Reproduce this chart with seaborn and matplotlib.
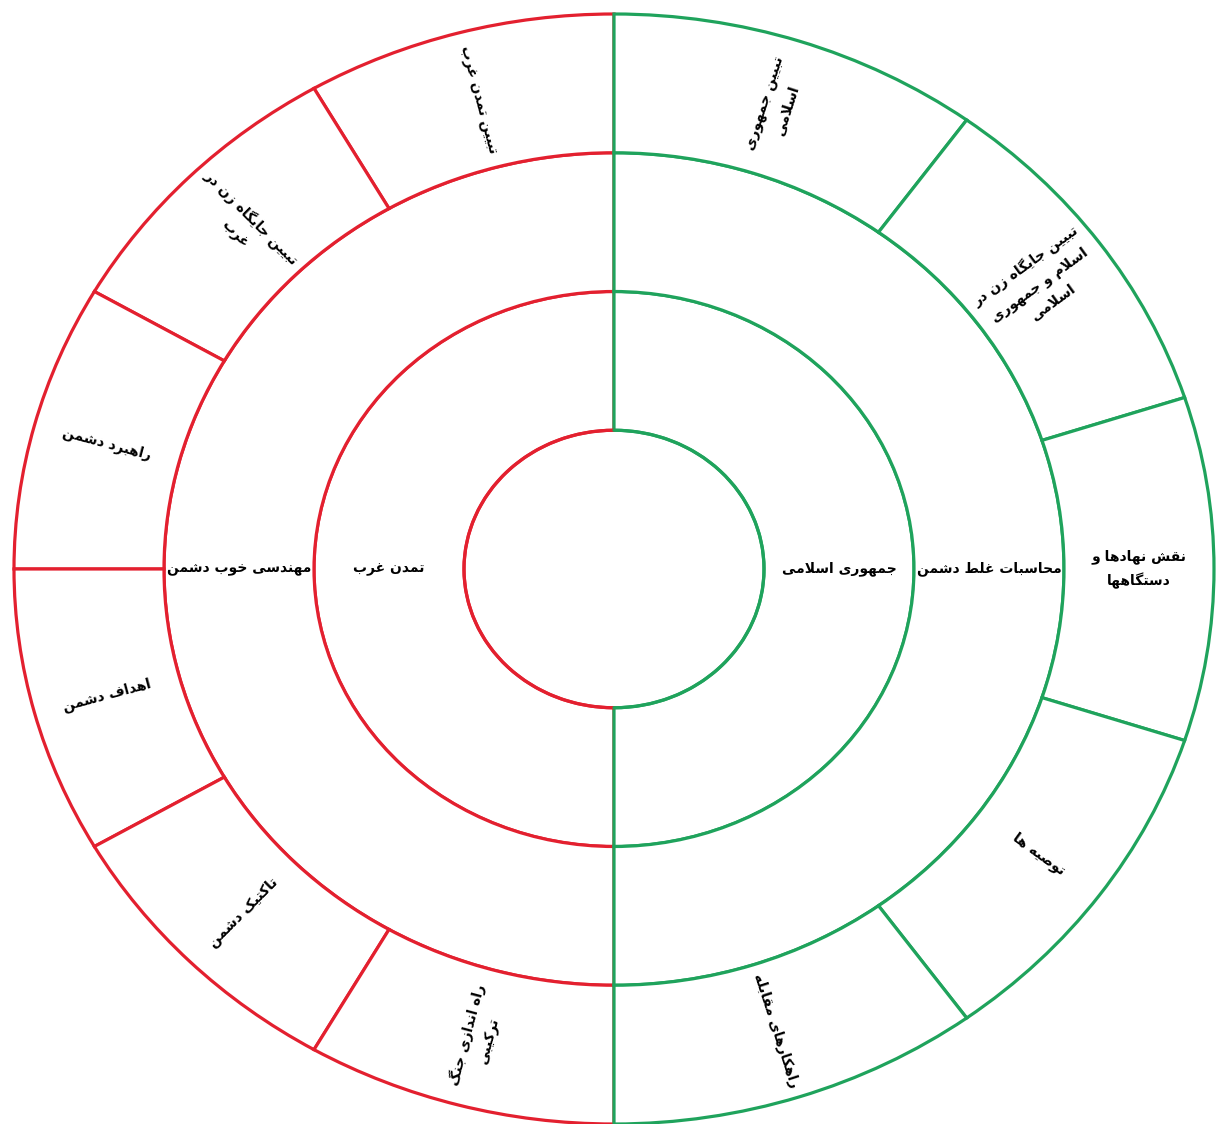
import numpy as np
import pandas as pd
import seaborn as sns
import matplotlib.pyplot as plt

# Labels of the diagram (right half = green, left half = red)
core_labels = ["جمهوری اسلامی", "تمدن غرب"]
middle_labels = ["محاسبات غلط دشمن", "مهندسی خوب دشمن"]
outer_right = ["تبیین جمهوری\nاسلامی",
               "تبیین جایگاه زن در\nاسلام و جمهوری\nاسلامی",
               "نقش نهادها و\nدستگاهها",
               "توصیه ها",
               "راهکارهای مقابله"]
outer_left = ["تبیین تمدن غرب",
              "تبیین جایگاه زن در\nغرب",
              "راهبرد دشمن",
              "اهداف دشمن",
              "تاکتیک دشمن",
              "راه اندازی جنگ\nترکیبی"]
side_colors = {"right": "#1fa35c", "left": "#e3202f"}

# Arabic presentation forms: isolated, final, initial, medial
GLYPHS = {
    "ا": "\uFE8D\uFE8E", "ب": "\uFE8F\uFE90\uFE91\uFE92",
    "پ": "\uFB56\uFB57\uFB58\uFB59", "ت": "\uFE95\uFE96\uFE97\uFE98",
    "ج": "\uFE9D\uFE9E\uFE9F\uFEA0", "ح": "\uFEA1\uFEA2\uFEA3\uFEA4",
    "خ": "\uFEA5\uFEA6\uFEA7\uFEA8", "د": "\uFEA9\uFEAA",
    "ذ": "\uFEAB\uFEAC", "ر": "\uFEAD\uFEAE", "ز": "\uFEAF\uFEB0",
    "س": "\uFEB1\uFEB2\uFEB3\uFEB4", "ش": "\uFEB5\uFEB6\uFEB7\uFEB8",
    "ص": "\uFEB9\uFEBA\uFEBB\uFEBC", "ط": "\uFEC1\uFEC2\uFEC3\uFEC4",
    "ع": "\uFEC9\uFECA\uFECB\uFECC", "غ": "\uFECD\uFECE\uFECF\uFED0",
    "ف": "\uFED1\uFED2\uFED3\uFED4", "ق": "\uFED5\uFED6\uFED7\uFED8",
    "ک": "\uFB8E\uFB8F\uFB90\uFB91", "گ": "\uFB92\uFB93\uFB94\uFB95",
    "ل": "\uFEDD\uFEDE\uFEDF\uFEE0", "م": "\uFEE1\uFEE2\uFEE3\uFEE4",
    "ن": "\uFEE5\uFEE6\uFEE7\uFEE8", "ه": "\uFEE9\uFEEA\uFEEB\uFEEC",
    "و": "\uFEED\uFEEE", "ی": "\uFBFC\uFBFD\uFBFE\uFBFF",
}


def shape_line(text):
    chars = list(text)
    out = []
    prev_joins = False
    i = 0
    while i < len(chars):
        c = chars[i]
        if c not in GLYPHS:
            out.append(c)
            prev_joins = False
            i += 1
            continue
        if c == "ل" and i + 1 < len(chars) and chars[i + 1] == "ا":
            out.append("\uFEFC" if prev_joins else "\uFEFB")
            prev_joins = False
            i += 2
            continue
        f = GLYPHS[c]
        nxt = chars[i + 1] if i + 1 < len(chars) else ""
        can_next = len(f) == 4 and nxt in GLYPHS
        if prev_joins and can_next:
            g = f[3]
        elif prev_joins:
            g = f[1]
        elif can_next:
            g = f[2]
        else:
            g = f[0]
        out.append(g)
        prev_joins = can_next
        i += 1
    return "".join(reversed(out))


def shape(text):
    return "\n".join(shape_line(line) for line in text.split("\n"))


# Build the segment table
rows = []
for side, start in [("left", 90), ("right", -90)]:
    k = 1 if side == "left" else 0
    rows.append(dict(side=side, ring=0, start=start, width=180, label=core_labels[k]))
    rows.append(dict(side=side, ring=1, start=start, width=180, label=middle_labels[k]))
outer = {"left": outer_left, "right": outer_right}
for side, labels in outer.items():
    w = 180 / len(labels)
    for i, lab in enumerate(labels):
        if side == "left":
            st = 90 + i * w
        else:
            st = 90 - (i + 1) * w
        rows.append(dict(side=side, ring=2, start=st, width=w, label=lab))
segments = pd.DataFrame(rows)

sns.set_theme(style="white")
plt.rcParams["font.family"] = ["DejaVu Sans"]

fig = plt.figure(figsize=(12.23, 11.24), dpi=100)
ax = fig.add_axes([14 / 1223, 0, 1200 / 1223, 1110 / 1124], projection="polar")
ax.set_aspect("auto")
ax.set_ylim(0, 4)
ax.set_axis_off()

lw = 2.3
for side in ["left", "right"]:
    col = side_colors[side]
    part = segments[segments.side == side]
    # centre circle: arcs only
    th0 = np.deg2rad(90 if side == "left" else -90)
    th = np.linspace(th0, th0 + np.pi, 200)
    ax.plot(th, np.ones_like(th), color=col, lw=lw, clip_on=False)
    ax.bar(np.deg2rad(part.start), height=1, width=np.deg2rad(part.width),
           bottom=part.ring + 1, align="edge", color="white",
           edgecolor=col, linewidth=lw, clip_on=False)

for _, s in segments.iterrows():
    mid = s.start + s.width / 2
    rot = mid if s.side == "right" else mid - 180
    if s.ring < 2:
        rot = 0
    ax.text(np.deg2rad(mid), s.ring + 1.5, shape(s.label), rotation=rot,
            rotation_mode="anchor", ha="center", va="center",
            multialignment="center", fontsize=10, fontweight="bold",
            linespacing=1.7, color="black")

fig.savefig("out.png", dpi=100)
